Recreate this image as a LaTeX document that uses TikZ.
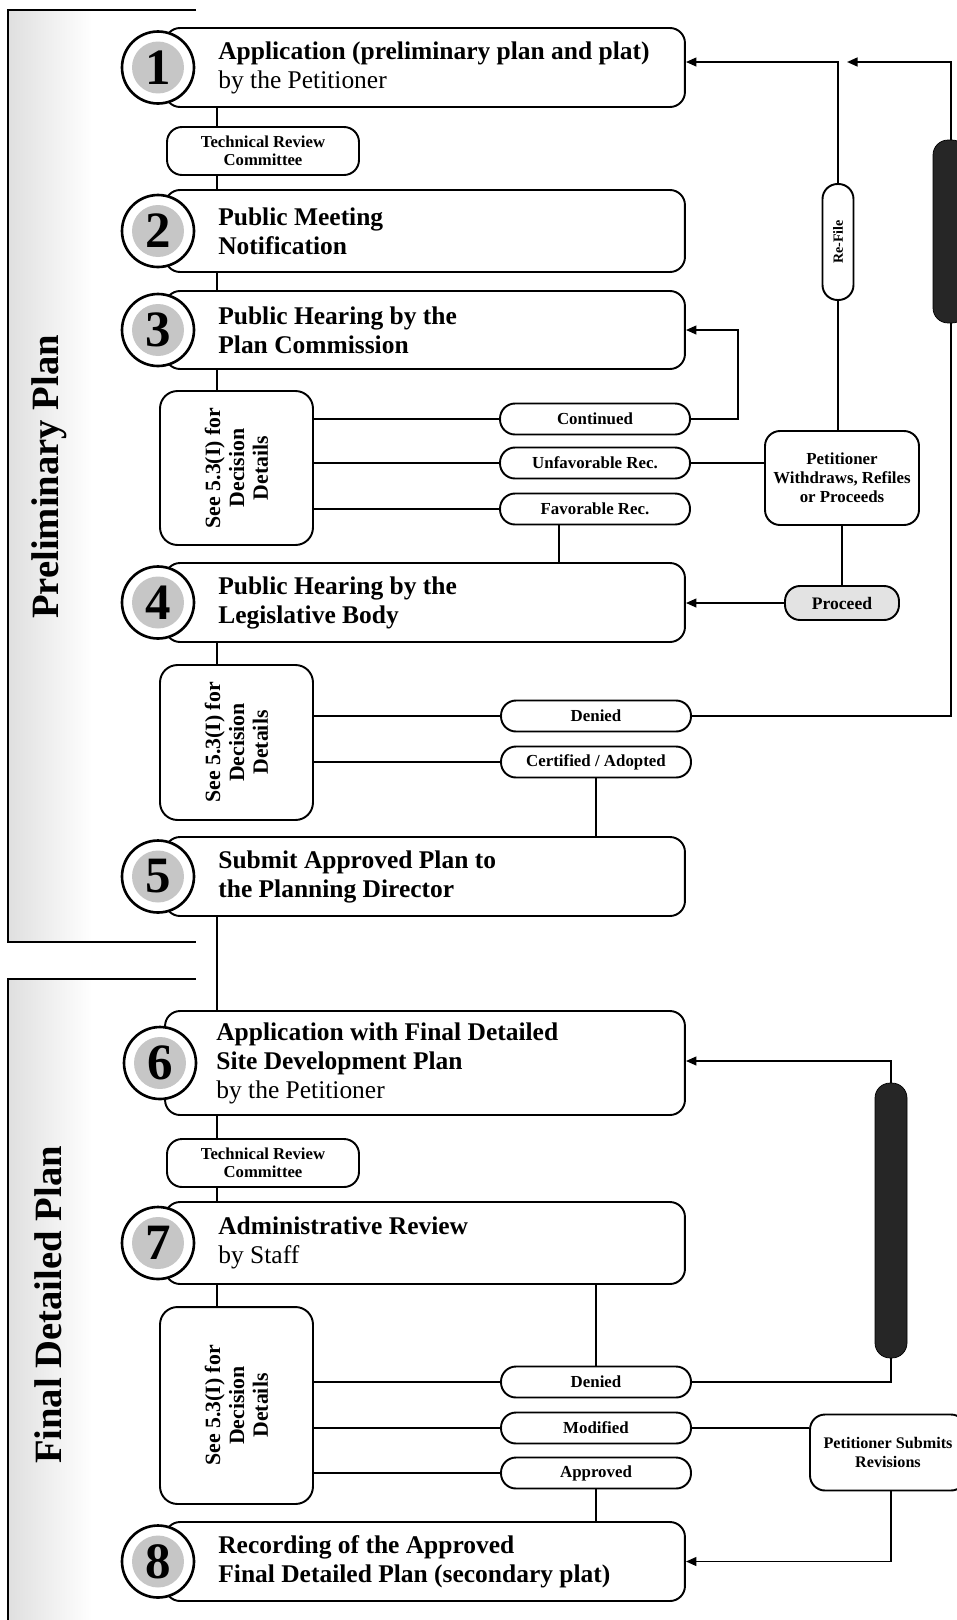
\documentclass[tikz,border=0pt]{standalone}
\usepackage{fontspec}
\setmainfont{Liberation Serif}
\usetikzlibrary{arrows.meta}

\begin{document}
\begin{tikzpicture}[x=0.02cm,y=-0.02cm]
    \tikzstyle{stepbox}=[draw,line width=1.1pt,rounded corners=0.3cm,minimum width=10.4cm,minimum height=1.58cm,fill=white]
    \tikzstyle{steptext}=[anchor=west,align=left,inner sep=0pt,font=\bfseries\fontsize{14.5}{16.5}\selectfont]
    \tikzstyle{stepnum}=[circle,draw,line width=1.5pt,fill=white,minimum size=1.44cm,inner sep=0pt,font=\bfseries\fontsize{29}{29}\selectfont,
        path picture={\fill[gray!45] (path picture bounding box.center) circle (0.52cm);}]
    \tikzstyle{review}=[draw,line width=1.1pt,rounded corners=0.3cm,minimum width=3.84cm,minimum height=0.96cm,fill=white,align=center,inner sep=1pt,font=\bfseries\fontsize{9.5}{10.5}\selectfont]
    \tikzstyle{decbox}=[draw,line width=1.1pt,rounded corners=0.35cm,minimum width=3.06cm,fill=white]
    \tikzstyle{dectext}=[align=center,inner sep=0pt,rotate=90,font=\bfseries\fontsize{12.4}{13.6}\selectfont]
    \tikzstyle{pill}=[draw,line width=1.1pt,rounded corners=0.3cm,minimum width=3.8cm,minimum height=0.62cm,fill=white,inner sep=1pt,font=\bfseries\fontsize{9.6}{10.5}\selectfont]
    \tikzstyle{sidebox}=[draw,line width=1.1pt,rounded corners=0.3cm,fill=white,align=center,inner sep=1pt,font=\bfseries\fontsize{9.6}{10.8}\selectfont]
    \tikzstyle{darkbar}=[fill=black!85,draw=black,rounded corners=0.3cm]
    \tikzstyle{link}=[line width=1.1pt]
    \tikzstyle{arrow}=[line width=1.1pt,-{Triangle[length=6pt,width=5pt]}]

    \useasboundingbox (0,0) rectangle (957,1620);

    % page frame and section labels
    \shade[left color=gray!25,right color=white] (8,10) rectangle (92,942);
    \shade[left color=gray!25,right color=white] (8,979) rectangle (92,1620);
    \draw[line width=1.3pt] (196,10) -- (8,10) -- (8,942) -- (196,942);
    \draw[line width=1.3pt] (196,979) -- (8,979) -- (8,1620);
    \node[rotate=90,font=\bfseries\fontsize{22}{22}\selectfont] at (49,477) (prelim) {Preliminary Plan};
    \node[rotate=90,font=\bfseries\fontsize{22}{22}\selectfont] at (48,1305) (final) {Final Detailed Plan};

    \coordinate (trunk) at (217,0);

    % steps
    \node[stepbox] at (425,67.5) (b1) {};
    \node[stepbox,minimum height=1.64cm] at (425,231) (b2) {};
    \node[stepbox,minimum height=1.56cm] at (425,330) (b3) {};
    \node[stepbox] at (425,602.5) (b4) {};
    \node[stepbox] at (425,876.5) (b5) {};
    \node[stepbox,minimum height=2.08cm] at (425,1063) (b6) {};
    \node[stepbox,minimum height=1.64cm] at (425,1243) (b7) {};
    \node[stepbox] at (425,1561.5) (b8) {};

    \node[steptext] at (218,67.5) (t1) {Application (preliminary plan and plat)\\\mdseries by the Petitioner};
    \node[steptext] at (218,231) (t2) {Public Meeting\\Notification};
    \node[steptext] at (218,330) (t3) {Public Hearing by the\\Plan Commission};
    \node[steptext] at (218,602.5) (t4) {Public Hearing by the\\Legislative Body};
    \node[steptext] at (218,876.5) (t5) {Submit Approved Plan to\\the Planning Director};
    \node[steptext] at (216,1063) (t6) {Application with Final Detailed\\Site Development Plan\\\mdseries by the Petitioner};
    \node[steptext] at (218,1243) (t7) {Administrative Review\\\mdseries by Staff};
    \node[steptext] at (218,1561.5) (t8) {Recording of the Approved\\Final Detailed Plan (secondary plat)};

    \node[stepnum] at (158,67.5) (n1) {1};
    \node[stepnum] at (158,231) (n2) {2};
    \node[stepnum] at (158,330) (n3) {3};
    \node[stepnum] at (158,602.5) (n4) {4};
    \node[stepnum] at (158,876.5) (n5) {5};
    \node[stepnum] at (160,1063) (n6) {6};
    \node[stepnum] at (158,1243) (n7) {7};
    \node[stepnum] at (158,1561.5) (n8) {8};

    \node[review] at (263,151) (trc1) {Technical Review\\Committee};
    \node[review] at (263,1163) (trc2) {Technical Review\\Committee};

    % decisions
    \node[decbox,minimum height=3.08cm] at (236.5,468) (d1) {};
    \node[decbox,minimum height=3.1cm] at (236.5,742.5) (d2) {};
    \node[decbox,minimum height=3.94cm] at (236.5,1405.5) (d3) {};
    \node[dectext] at (d1) (d1t) {See 5.3(I) for\\Decision\\Details};
    \node[dectext] at (d2) (d2t) {See 5.3(I) for\\Decision\\Details};
    \node[dectext] at (d3) (d3t) {See 5.3(I) for\\Decision\\Details};

    \node[pill] at (595,419) (pcont) {Continued};
    \node[pill] at (595,463) (punfav) {Unfavorable Rec.};
    \node[pill] at (595,509) (pfav) {Favorable Rec.};
    \node[pill] at (596,716) (pden1) {Denied};
    \node[pill] at (596,762) (pcert) {Certified / Adopted};
    \node[pill] at (596,1382) (pden2) {Denied};
    \node[pill] at (596,1428) (pmod) {Modified};
    \node[pill] at (596,1473) (pappr) {Approved};

    \node[sidebox,minimum width=3.08cm,minimum height=1.88cm] at (842,478) (pet) {Petitioner\\Withdraws, Refiles\\or Proceeds};
    \node[pill,rotate=90,minimum width=2.32cm,minimum height=0.62cm,font=\bfseries\fontsize{8}{9}\selectfont] at (838,242) (refile) {Re-File};
    \node[pill,fill=gray!22,minimum width=2.28cm,minimum height=0.68cm,font=\bfseries\fontsize{10}{11}\selectfont] at (842,603) (proc) {Proceed};
    \node[sidebox,minimum width=3.12cm,minimum height=1.52cm,font=\bfseries\fontsize{9.2}{10.8}\selectfont] at (888,1452.5) (psub) {Petitioner Submits\\Revisions};

    % trunk
    \draw[link] (b1.south -| trunk) -- (trc1.north -| trunk);
    \draw[link] (trc1.south -| trunk) -- (b2.north -| trunk);
    \draw[link] (b2.south -| trunk) -- (b3.north -| trunk);
    \draw[link] (b3.south -| trunk) -- (d1.north -| trunk);
    \draw[link] (b4.south -| trunk) -- (d2.north -| trunk);
    \draw[link] (b5.south -| trunk) -- (b6.north -| trunk);
    \draw[link] (b6.south -| trunk) -- (trc2.north -| trunk);
    \draw[link] (trc2.south -| trunk) -- (b7.north -| trunk);
    \draw[link] (b7.south -| trunk) -- (d3.north -| trunk);

    % decision branches
    \foreach \p in {pcont,punfav,pfav} \draw[link] (d1.east |- \p) -- (\p.west);
    \foreach \p in {pden1,pcert} \draw[link] (d2.east |- \p) -- (\p.west);
    \foreach \p in {pden2,pmod,pappr} \draw[link] (d3.east |- \p) -- (\p.west);

    \coordinate (contturn) at (738,330);
    \coordinate (reftop) at (838,62);
    \coordinate (farright) at (951,62);
    \coordinate (den2turn) at (891,1061);

    \draw[arrow] (pcont.east) -| (contturn) -- (b3.east);
    \draw[link] (punfav.east) -- (punfav.east -| pet.west);
    \draw[link] ([xshift=-0.72cm]pfav.south) -- ([xshift=-0.72cm]pfav.south |- b4.north);
    \draw[link] (pet.north -| refile) -- (refile.west);
    \draw[arrow] (refile.east) -- (reftop) -- (b1.east |- reftop);
    \draw[link] (pet.south) -- (proc.north);
    \draw[arrow] (proc.west) -- (b4.east |- proc.west);
    \draw[arrow] (pden1.east) -| (farright) -- ([xshift=0.18cm]reftop);
    \node[darkbar,minimum width=0.68cm,minimum height=3.66cm] at (950,231.5) (bar1) {};
    \draw[link] (pcert.south) -- (pcert.south |- b5.north);

    \draw[link] (pden2.north) -- (pden2.north |- b7.south);
    \draw[arrow] (pden2.east) -| (den2turn) -- (b6.east |- den2turn);
    \node[darkbar,minimum width=0.64cm,minimum height=5.5cm] at (891,1220.5) (bar2) {};
    \draw[link] (pmod.east) -- (psub.west |- pmod);
    \draw[link] (pappr.south) -- (pappr.south |- b8.north);
    \draw[arrow] (psub.south -| den2turn) |- (b8.east);
\end{tikzpicture}
\end{document}
